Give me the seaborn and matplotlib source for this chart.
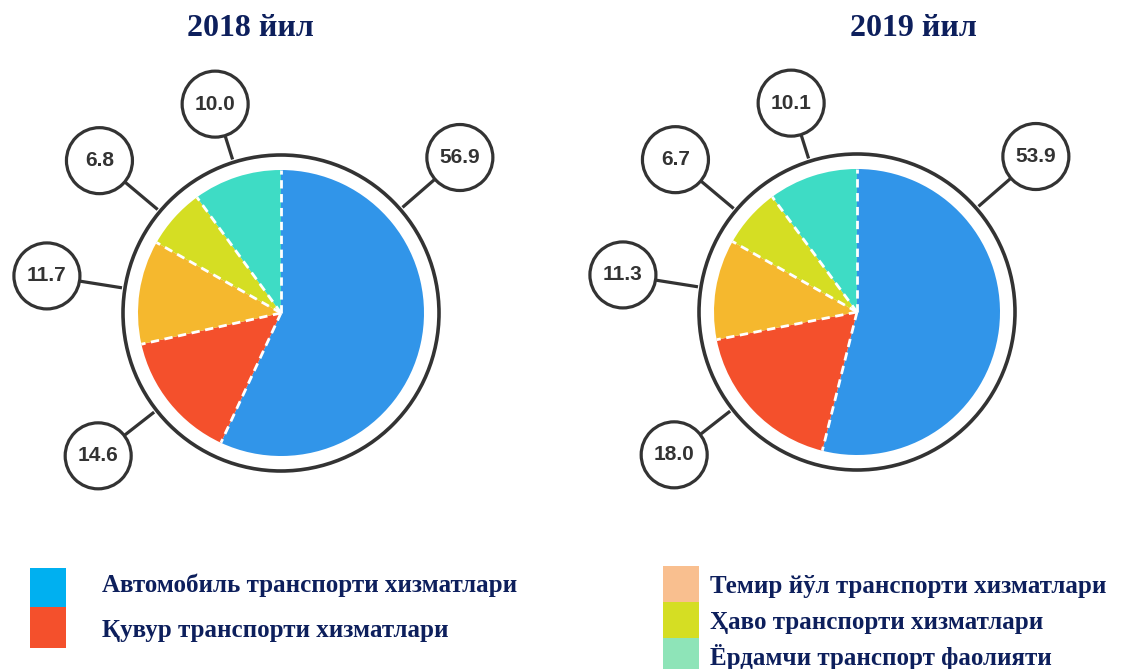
import matplotlib
matplotlib.use("Agg")
import numpy as np
import matplotlib.pyplot as plt
import seaborn as sns
from matplotlib.patches import Circle, Rectangle

# ---------------- data ----------------
categories = [
    "Автомобиль транспорти хизматлари",
    "Қувур транспорти хизматлари",
    "Темир йўл транспорти хизматлари",
    "Ҳаво транспорти хизматлари",
    "Ёрдамчи транспорт фаолияти",
]
values_2018 = [56.9, 14.6, 11.7, 6.8, 10.0]
values_2019 = [53.9, 18.0, 11.3, 6.7, 10.1]
years = ["2018 йил", "2019 йил"]

pie_colors = ["#3195E9", "#F4502C", "#F5B82E", "#D5DE23", "#3EDCC5"]
legend_colors = ["#00B0F0", "#F4502C", "#F9BF8F", "#D5DE23", "#8EE4B8"]

# ---------------- style ----------------
sns.set_theme(style="white")
plt.rcParams["font.family"] = ["Liberation Sans", "DejaVu Sans"]
NAVY = "#0D1F5C"
DARK = "#333333"

W, H = 1137, 669
fig = plt.figure(figsize=(W / 100, H / 100), dpi=100)
ax = fig.add_axes([0, 0, 1, 1])

R = 143          # pie radius (px)
RING = 158       # outer ring radius
LBL_R = 33       # label bubble radius
# label bubble layout (angle in degrees, distance from centre) per slice
lbl_angles = [41, 218, 171, 140, 107.5]
lbl_dists = [237, 232, 237, 237, 219]


def draw_pie(cx, cy_px, vals, title, title_x):
    cy = H - cy_px
    ax.pie(vals, colors=pie_colors, startangle=90, counterclock=False,
           center=(cx, cy), radius=R, wedgeprops=dict(linewidth=0),
           normalize=True)
    total = float(sum(vals))
    bounds = 90 - 360 * np.cumsum([0] + list(vals[:-1])) / total
    for a in bounds:
        t = np.deg2rad(a)
        ax.plot([cx, cx + R * np.cos(t)], [cy, cy + R * np.sin(t)],
                color="white", lw=2, ls=(0, (3, 2)), zorder=3,
                solid_capstyle="butt", dash_capstyle="butt")
    ax.add_patch(Circle((cx, cy), RING, fill=False, ec=DARK, lw=2.6, zorder=4))
    for v, ang, d in zip(vals, lbl_angles, lbl_dists):
        t = np.deg2rad(ang)
        ux, uy = np.cos(t), np.sin(t)
        ax.plot([cx + (RING + 3) * ux, cx + (d - LBL_R) * ux],
                [cy + (RING + 3) * uy, cy + (d - LBL_R) * uy],
                color=DARK, lw=2.3, zorder=4, solid_capstyle="butt")
        bx, by = cx + d * ux, cy + d * uy
        ax.add_patch(Circle((bx, by), LBL_R, fc="white", ec=DARK, lw=2.3, zorder=5))
        ax.text(bx, by, f"{v:.1f}", ha="center", va="center", fontsize=15,
                fontweight="bold", color=DARK, zorder=6)
    ax.text(title_x, H - 28, title, ha="center", va="center", fontsize=23,
            fontweight="bold", color=NAVY, family=["Liberation Serif", "DejaVu Serif"])


draw_pie(281, 313, values_2018, years[0], 250)
draw_pie(857, 312, values_2019, years[1], 913)

# ---------------- legend ----------------
leg_boxes = [(30, 568, 607), (30, 607, 648), (663, 566, 602), (663, 602, 638), (663, 638, 669)]
leg_text_y = [585, 630, 586, 622, 657]
for i, (lab, col) in enumerate(zip(categories, legend_colors)):
    x0, y0, y1 = leg_boxes[i]
    ax.add_patch(Rectangle((x0, H - y1), 36, y1 - y0, fc=col, ec="none", zorder=2))
    tx = 102 if x0 < 300 else 710
    ax.text(tx, H - leg_text_y[i], lab, ha="left", va="center", fontsize=18,
            fontweight="bold", color=NAVY, family=["Liberation Serif", "DejaVu Serif"])

ax.set_xlim(0, W)
ax.set_ylim(0, H)
ax.set_aspect("equal")
ax.axis("off")
fig.savefig("out.png", dpi=100, facecolor="white")
